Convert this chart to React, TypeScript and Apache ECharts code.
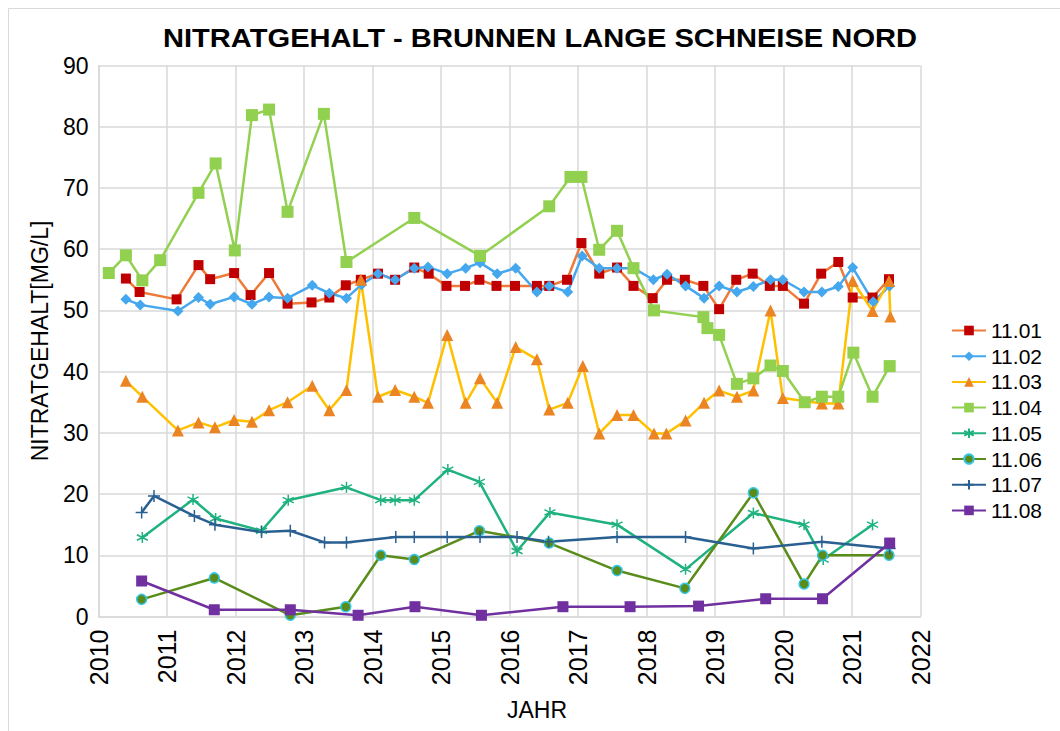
import React, { useEffect, useRef } from "react";
import * as echarts from "echarts";

const TITLE = "NITRATGEHALT - BRUNNEN LANGE SCHNEISE NORD";
const Y_NAME = "NITRATGEHALT[MG/L]";
const X_NAME = "JAHR";
const SERIES_NAMES = ["11.01", "11.02", "11.03", "11.04", "11.05", "11.06", "11.07", "11.08"];

const s1101: number[][] = [
  [2010.40, 55.2], [2010.60, 53.0], [2011.14, 51.8], [2011.46, 57.4], [2011.63, 55.1], [2011.98, 56.1],
  [2012.22, 52.5], [2012.49, 56.1], [2012.76, 51.1], [2013.11, 51.3], [2013.37, 52.1], [2013.61, 54.1],
  [2013.83, 55.0], [2014.08, 56.0], [2014.33, 55.0], [2014.61, 57.0], [2014.82, 56.0], [2015.08, 54.0],
  [2015.35, 54.0], [2015.56, 55.0], [2015.81, 54.0], [2016.08, 54.0], [2016.40, 54.0], [2016.58, 54.0],
  [2016.84, 55.0], [2017.05, 61.0], [2017.31, 56.0], [2017.57, 57.0], [2017.81, 54.0], [2018.09, 52.0],
  [2018.30, 55.0], [2018.56, 55.0], [2018.83, 54.0], [2019.06, 50.2], [2019.31, 55.0], [2019.55, 56.0],
  [2019.80, 54.0], [2019.99, 54.0], [2020.30, 51.1], [2020.55, 56.0], [2020.80, 57.9], [2021.01, 52.1],
  [2021.30, 52.1], [2021.54, 55.1],
];

const s1102: number[][] = [
  [2010.40, 51.8], [2010.61, 50.9], [2011.16, 49.9], [2011.46, 52.1], [2011.63, 51.0], [2011.98, 52.2],
  [2012.24, 51.0], [2012.49, 52.2], [2012.76, 52.0], [2013.12, 54.1], [2013.37, 52.8], [2013.62, 52.0],
  [2013.84, 54.2], [2014.08, 56.0], [2014.33, 55.0], [2014.61, 56.9], [2014.81, 57.1], [2015.09, 56.0],
  [2015.36, 56.9], [2015.57, 57.8], [2015.82, 56.0], [2016.09, 56.9], [2016.40, 53.0], [2016.58, 54.0],
  [2016.85, 53.0], [2017.06, 58.9], [2017.31, 56.9], [2017.57, 56.9], [2017.81, 56.9], [2018.10, 55.0],
  [2018.30, 55.9], [2018.57, 54.0], [2018.84, 52.0], [2019.06, 54.0], [2019.32, 53.0], [2019.56, 53.9],
  [2019.81, 55.0], [2019.99, 55.0], [2020.30, 53.0], [2020.56, 53.0], [2020.80, 53.9], [2021.01, 57.0],
  [2021.31, 51.4], [2021.55, 54.0],
];

const s1103: number[][] = [
  [2010.40, 38.5], [2010.64, 35.9], [2011.16, 30.4], [2011.46, 31.7], [2011.70, 30.9], [2011.98, 32.1],
  [2012.24, 31.8], [2012.49, 33.7], [2012.76, 35.0], [2013.12, 37.7], [2013.37, 33.7], [2013.62, 37.0],
  [2013.83, 55.0], [2014.08, 35.9], [2014.33, 37.0], [2014.61, 35.9], [2014.81, 34.9], [2015.09, 46.0],
  [2015.36, 34.9], [2015.57, 38.9], [2015.82, 34.9], [2016.09, 44.0], [2016.40, 42.0], [2016.58, 33.8],
  [2016.85, 34.9], [2017.07, 40.9], [2017.31, 29.9], [2017.57, 32.9], [2017.81, 32.9], [2018.11, 29.9],
  [2018.29, 29.9], [2018.57, 32.0], [2018.84, 34.9], [2019.06, 36.9], [2019.32, 35.9], [2019.56, 36.9],
  [2019.81, 50.0], [2019.99, 35.7], [2020.56, 34.8], [2020.80, 34.8], [2021.01, 54.8], [2021.30, 49.9],
  [2021.54, 54.8], [2021.56, 49.0],
];

const s1104: number[][] = [
  [2010.15, 56.1], [2010.40, 59.0], [2010.64, 54.9], [2010.90, 58.2], [2011.46, 69.2], [2011.71, 74.0],
  [2011.99, 59.8], [2012.24, 81.9], [2012.49, 82.8], [2012.76, 66.1], [2013.29, 82.1], [2013.62, 57.9],
  [2014.61, 65.1], [2015.57, 58.9], [2016.58, 67.0], [2016.89, 71.8], [2017.05, 71.8], [2017.31, 59.9],
  [2017.57, 63.0], [2017.81, 56.9], [2018.11, 50.0], [2018.83, 48.9], [2018.89, 47.1], [2019.06, 46.0],
  [2019.32, 38.0], [2019.56, 38.9], [2019.81, 41.0], [2019.99, 40.1], [2020.31, 35.0], [2020.56, 35.9],
  [2020.80, 35.9], [2021.02, 43.1], [2021.30, 35.9], [2021.55, 40.9],
];

const s1105: number[][] = [
  [2010.64, 12.9], [2011.38, 19.1], [2011.71, 16.0], [2012.38, 14.0], [2012.77, 19.0], [2013.62, 21.1],
  [2014.12, 19.0], [2014.33, 19.0], [2014.61, 19.0], [2015.10, 24.0], [2015.56, 22.0], [2016.11, 10.7],
  [2016.59, 17.0], [2017.57, 15.0], [2018.57, 7.7], [2019.56, 16.9], [2020.30, 15.0], [2020.58, 9.3],
  [2021.30, 15.0],
];

const s1106: number[][] = [
  [2010.63, 2.8], [2011.69, 6.3], [2012.80, 0.2], [2013.61, 1.6], [2014.12, 10.0], [2014.61, 9.3],
  [2015.56, 14.0], [2016.58, 12.0], [2017.57, 7.5], [2018.56, 4.6], [2019.56, 20.2], [2020.30, 5.3],
  [2020.57, 10.0], [2021.54, 10.0],
];

const s1107: number[][] = [
  [2010.63, 17.0], [2010.81, 19.7], [2011.40, 16.4], [2011.70, 15.0], [2012.38, 13.8], [2012.80, 14.0],
  [2013.30, 12.1], [2013.62, 12.1], [2014.34, 13.0], [2014.61, 13.0], [2015.09, 13.0], [2015.57, 13.0],
  [2016.11, 13.0], [2016.57, 12.2], [2017.57, 13.0], [2018.57, 13.0], [2019.56, 11.1], [2020.56, 12.2],
  [2021.55, 11.1],
];

const s1108: number[][] = [
  [2010.63, 5.8], [2011.69, 1.1], [2012.80, 1.1], [2013.79, 0.2], [2014.62, 1.6], [2015.59, 0.2],
  [2016.78, 1.6], [2017.76, 1.6], [2018.76, 1.7], [2019.74, 2.9], [2020.57, 2.9], [2021.55, 12.0],
];

const FONT = "'Liberation Sans', Arial, sans-serif";
const ASTERISK = "path://M5,0L5,10M0.7,2.5L9.3,7.5M0.7,7.5L9.3,2.5";
const PLUS = "path://M5,0L5,10M0,5L10,5";

function mk(name: string, data: number[][], line: string, fill: string, symbol: string, size: number, extra: any = {}) {
  return {
    name,
    type: "line",
    data,
    symbol,
    symbolSize: size,
    lineStyle: { color: line, width: 2.5 },
    itemStyle: { color: fill, ...extra },
    emphasis: { disabled: true },
  };
}

export default function App() {
  const ref = useRef<HTMLDivElement>(null);
  useEffect(() => {
    if (!ref.current) return;
    const chart = echarts.init(ref.current, null, { renderer: "svg" });
    chart.setOption({
      animation: false,
      backgroundColor: "#ffffff",
      textStyle: { fontFamily: FONT },
      grid: { left: 98.5, top: 65.5, width: 822, height: 551 },
      graphic: [
        {
          type: "rect",
          shape: { x: 8.5, y: 8.5, width: 1100, height: 800 },
          style: { fill: "none", stroke: "#D9D9D9", lineWidth: 1 },
          silent: true,
        },
        {
          type: "text",
          x: 540,
          y: 38,
          scaleX: 1.12,
          style: {
            text: TITLE,
            font: `bold 26px ${FONT}`,
            fill: "#000",
            align: "center",
            verticalAlign: "middle",
          },
        },
      ],
      legend: {
        orient: "vertical",
        left: 946,
        top: 315,
        itemWidth: 34,
        itemHeight: 12,
        itemGap: 4.7,
        data: SERIES_NAMES,
        textStyle: { fontSize: 21, color: "#000", fontFamily: FONT },
      },
      xAxis: {
        type: "value",
        min: 2010,
        max: 2022,
        interval: 1,
        name: X_NAME,
        nameLocation: "middle",
        nameGap: 82,
        nameTextStyle: { fontSize: 23, color: "#000", padding: [0, 0, 0, 55], verticalAlign: "top" },
        axisLine: { show: true, lineStyle: { color: "#D9D9D9", width: 1.5 } },
        axisTick: { show: false },
        splitLine: { show: true, lineStyle: { color: "#D9D9D9", width: 1.5 } },
        axisLabel: { rotate: 90, fontSize: 25, color: "#000", margin: 13, formatter: (v: number) => String(v) },
      },
      yAxis: {
        type: "value",
        min: 0,
        max: 90,
        interval: 10,
        name: Y_NAME,
        nameLocation: "middle",
        nameRotate: 90,
        nameGap: 47,
        nameTextStyle: { fontSize: 23, color: "#000" },
        axisLine: { show: true, lineStyle: { color: "#D9D9D9", width: 1.5 } },
        axisTick: { show: false },
        splitLine: { show: true, lineStyle: { color: "#D9D9D9", width: 1.5 } },
        axisLabel: { fontSize: 23, color: "#000", margin: 10 },
      },
      series: [
        mk("11.01", s1101, "#EE7A3A", "#C00000", "rect", 10),
        mk("11.02", s1102, "#45A7EE", "#45A7EE", "diamond", 11),
        mk("11.03", s1103, "#FFC000", "#EB8423", "triangle", 12),
        mk("11.04", s1104, "#92D050", "#92D050", "rect", 12),
        mk("11.05", s1105, "#1FB27E", "#1FB27E", ASTERISK, 11, { borderColor: "#1FB27E", borderWidth: 1.5 }),
        mk("11.06", s1106, "#5A8C1C", "#5A8C1C", "circle", 10, { borderColor: "#33C7EA", borderWidth: 1.5 }),
        mk("11.07", s1107, "#2A5F92", "#2A5F92", PLUS, 12, { borderColor: "#2A5F92", borderWidth: 1.5 }),
        mk("11.08", s1108, "#7030A0", "#7030A0", "rect", 11),
      ],
    });
    return () => chart.dispose();
  }, []);
  return <div ref={ref} style={{ position: "fixed", left: 0, top: 0, width: 1060, height: 731 }} />;
}
